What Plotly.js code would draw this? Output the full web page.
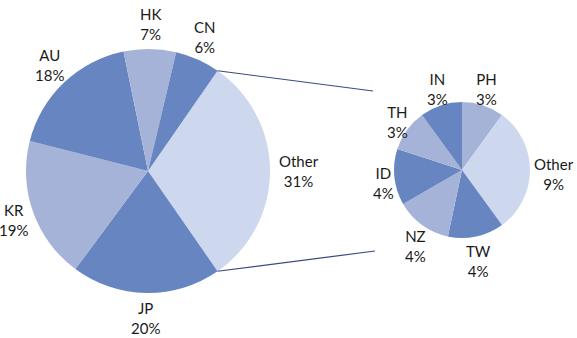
<!DOCTYPE html>
<html>
<head>
<meta charset="utf-8">
<script src="https://cdn.plot.ly/plotly-3.0.1.min.js"></script>
<style>html,body{margin:0;padding:0;background:#fff;}#chart{width:577px;height:338px;}</style>
</head>
<body>
<div id="chart"></div>
<script>
// Main pie
const mainLabels = ['Other', 'JP', 'KR', 'AU', 'HK', 'CN'];
const mainValues = [31, 20, 19, 18, 7, 6];
// Breakdown of "Other"
const subLabels = ['PH', 'Other', 'TW', 'NZ', 'ID', 'TH', 'IN'];
const subValues = [3, 9, 4, 4, 4, 3, 3];

const DARK = '#6785C1', MID = '#A6B3D8', LIGHT = '#CDD8EE';
const mainColors = [LIGHT, DARK, MID, DARK, MID, DARK];
const subColors = [MID, LIGHT, DARK, MID, DARK, MID, DARK];

const W = 577, H = 338;
const sum = arr => arr.reduce((a, b) => a + b, 0);
const mainTotal = sum(mainValues);
const otherHalf = 180 * mainValues[0] / mainTotal; // half-angle of Other slice
const mainRotation = 90 - otherHalf;
const subRotation = 0;

const font = {family: 'Lato, "Open Sans", sans-serif', size: 15, color: '#1a1a1a'};

// geometry (px)
const bigCx = 148, bigCy = 171, bigR = 122;
const smCx = 462, smCy = 170, smR = 68;

function dom(cx, cy, r) {
  return {x: [(cx - r) / W, (cx + r) / W], y: [1 - (cy + r) / H, 1 - (cy - r) / H]};
}

const traces = [
  {
    type: 'pie', labels: mainLabels, values: mainValues, sort: false,
    direction: 'clockwise', rotation: mainRotation,
    marker: {colors: mainColors, line: {width: 0}},
    textinfo: 'none', hoverinfo: 'none', showlegend: false,
    domain: dom(bigCx, bigCy, bigR)
  },
  {
    type: 'pie', labels: subLabels, values: subValues, sort: false,
    direction: 'clockwise', rotation: subRotation,
    marker: {colors: subColors, line: {width: 0}},
    textinfo: 'none', hoverinfo: 'none', showlegend: false,
    domain: dom(smCx, smCy, smR)
  }
];

// outside labels placed at each slice's mid-angle
function labelAnns(labels, values, rot, cx, cy, r, g, hh, dy) {
  const total = sum(values);
  let start = rot;
  const anns = [];
  labels.forEach((l, i) => {
    const span = 360 * values[i] / total;
    const mid = (start + span / 2) * Math.PI / 180;
    start += span;
    const pct = values[i] + '%';
    const hw = 4.1 * Math.max(l.length, pct.length);
    const s = Math.sin(mid), c = Math.cos(mid);
    const x = cx + (r + g + hw) * s;
    const y = cy - (r + g + hh) * c + dy;
    anns.push({
      xref: 'paper', yref: 'paper', x: x / W, y: 1 - y / H,
      xanchor: 'center', yanchor: 'middle', showarrow: false,
      text: l + '<br>' + pct, font: font, align: 'center'
    });
  });
  return anns;
}

const annotations = [
  ...labelAnns(mainLabels, mainValues, mainRotation, bigCx, bigCy, bigR, 8, 17, 0),
  ...labelAnns(subLabels, subValues, subRotation, smCx, smCy, smR, 3, 18, 4)
];

const a = otherHalf * Math.PI / 180;
const p1x = bigCx + bigR * Math.cos(a), p1y = bigCy - bigR * Math.sin(a);
const p2x = bigCx + bigR * Math.cos(a), p2y = bigCy + bigR * Math.sin(a);
const lineStyle = {color: '#3A4A80', width: 1.2};
const shapes = [
  {type: 'line', xref: 'paper', yref: 'paper', x0: p1x / W, y0: 1 - p1y / H, x1: 373 / W, y1: 1 - 91 / H, line: lineStyle},
  {type: 'line', xref: 'paper', yref: 'paper', x0: p2x / W, y0: 1 - p2y / H, x1: 375 / W, y1: 1 - 251 / H, line: lineStyle}
];

Plotly.newPlot('chart', traces, {
  width: W, height: H, margin: {l: 0, r: 0, t: 0, b: 0},
  paper_bgcolor: '#fff', font: font, shapes: shapes, annotations: annotations, showlegend: false
}, {staticPlot: true});
</script>
</body>
</html>
